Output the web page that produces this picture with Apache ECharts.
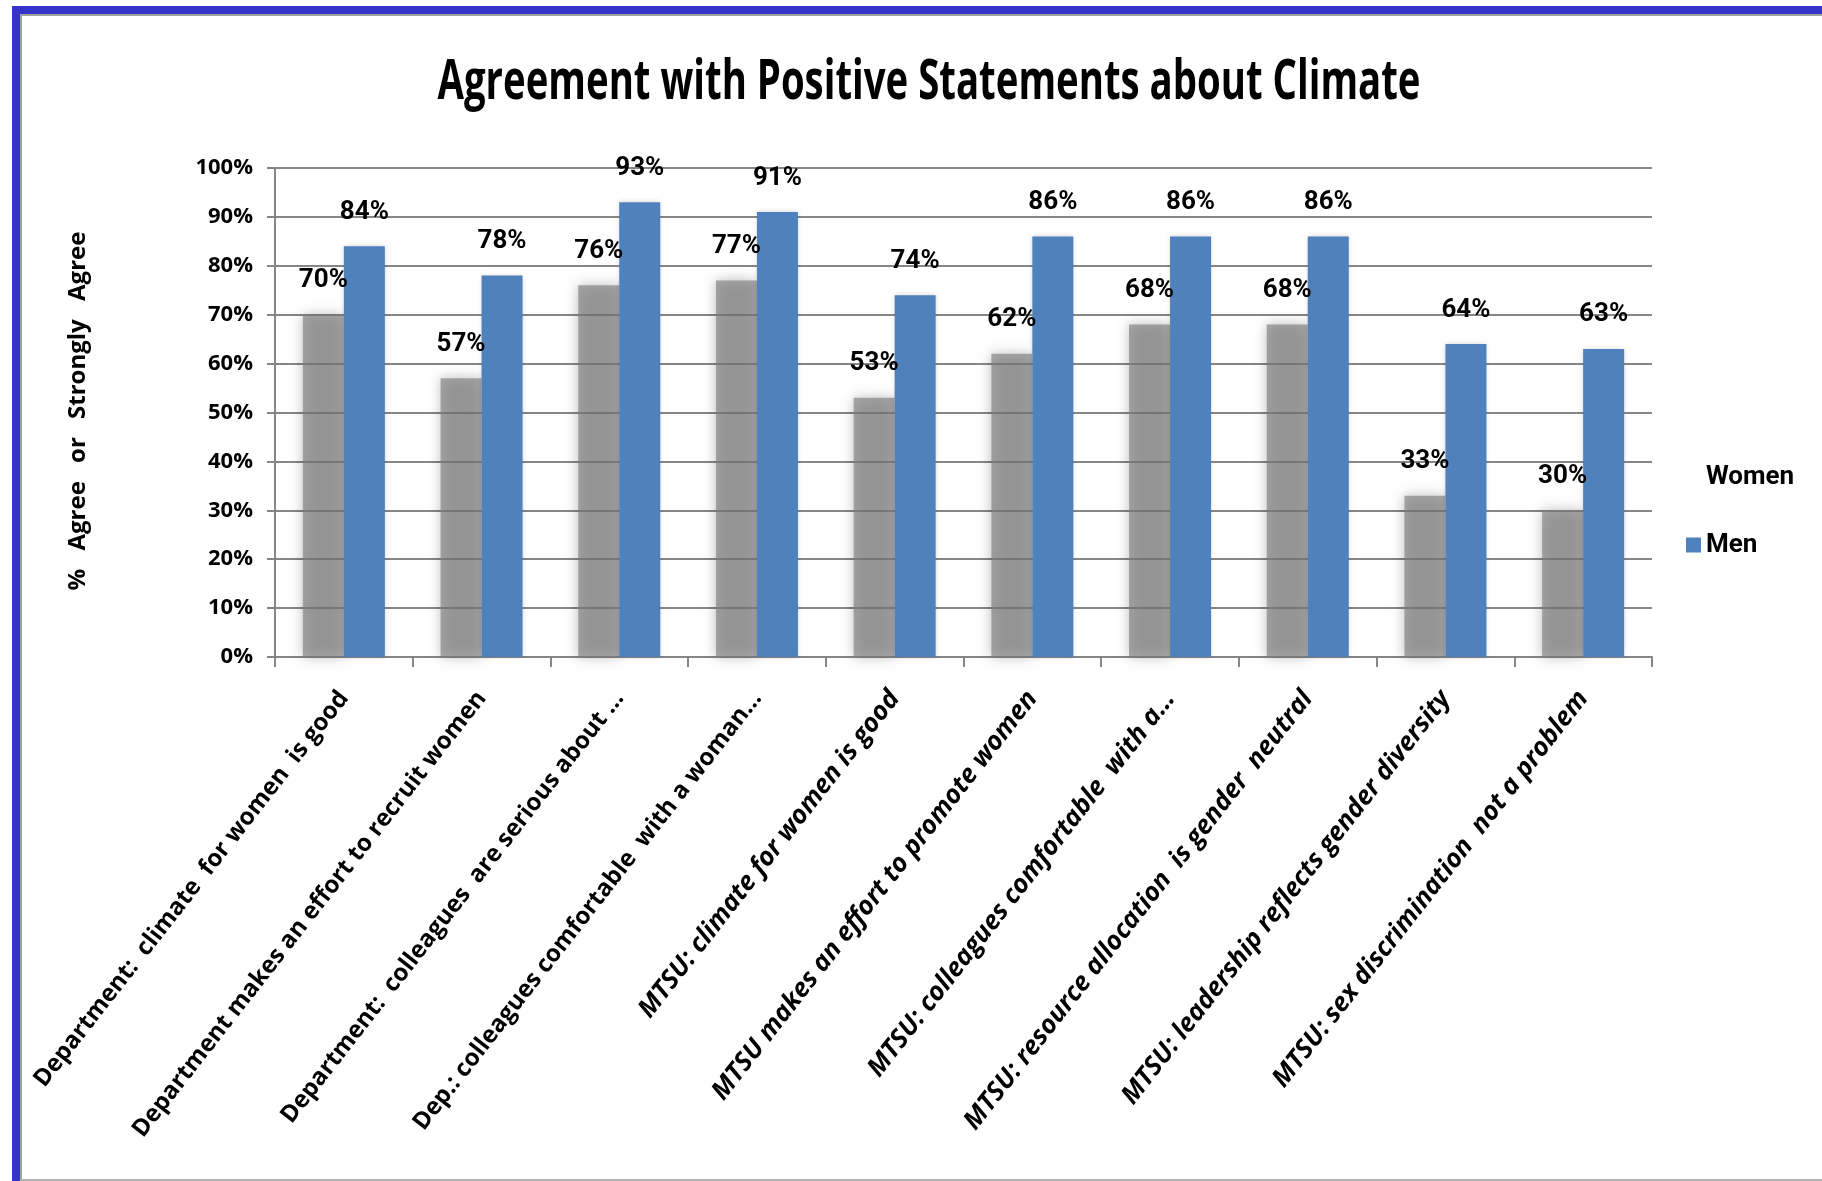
<!DOCTYPE html>
<html>
<head>
<meta charset="utf-8">
<title>Agreement with Positive Statements about Climate</title>
<style>
  html, body { margin: 0; padding: 0; background: #ffffff; }
  #chart { width: 1822px; height: 1181px; }
</style>
<script src="https://cdn.jsdelivr.net/npm/echarts@6/dist/echarts.min.js"></script>
</head>
<body>
<div id="chart"></div>
<script>
// Survey statements (x axis)
const categories = [
  'Department:  climate  for women  is good',
  'Department makes an effort to recruit women',
  'Department:  colleagues  are serious about \u2026',
  'Dep.: colleagues comfortable  with a woman\u2026',
  'MTSU: climate for women is good',
  'MTSU makes an effort to promote women',
  'MTSU: colleagues comfortable  with a\u2026',
  'MTSU: resource allocation  is gender  neutral',
  'MTSU: leadership reflects gender diversity',
  'MTSU: sex discrimination  not a problem'
];

// Percent agreeing or strongly agreeing
const women = [70, 57, 76, 77, 53, 62, 68, 68, 33, 30];
const men   = [84, 78, 93, 91, 74, 86, 86, 86, 64, 63];

// Value axis tick labels, 0..100 in steps of 10
const yTickLabels = ['0%', '10%', '20%', '30%', '40%', '50%', '60%', '70%', '80%', '90%', '100%'];

const titleText = 'Agreement with Positive Statements about Climate';
const yAxisTitle = '%\u2002 Agree\u2002 or\u2002 Strongly\u2002 Agree';

const SANS = '"Open Sans", "Noto Sans", sans-serif';
const COMPACT = 'Roboto, "Open Sans", sans-serif';
const GRID_COLOR = '#868686';

// The title is set tight: squeeze it to its box width
const TITLE_FONT_SIZE = 56;
const TITLE_BOX_WIDTH = 983;
const measureCtx = document.createElement('canvas').getContext('2d');
measureCtx.font = 'bold ' + TITLE_FONT_SIZE + 'px ' + SANS;
const titleScaleX = TITLE_BOX_WIDTH / measureCtx.measureText(titleText).width;

const chart = echarts.init(document.getElementById('chart'), null, { renderer: 'canvas' });

const valueLabel = {
  show: true,
  position: 'top',
  distance: 21,
  formatter: '{c}%',
  fontFamily: COMPACT,
  fontWeight: 'bold',
  fontSize: 26,
  color: '#000000'
};

chart.setOption({
  animation: false,
  backgroundColor: '#ffffff',
  graphic: [
    // slide frame: blue bands at top and left with a thin grey edge
    { type: 'rect', shape: { x: 12, y: 6, width: 1810, height: 8 }, style: { fill: '#3434c8' }, silent: true },
    { type: 'rect', shape: { x: 20, y: 14, width: 1802, height: 2 }, style: { fill: '#a0a0a0' }, silent: true },
    { type: 'rect', shape: { x: 12, y: 6, width: 8, height: 1175 }, style: { fill: '#3434c8' }, silent: true },
    { type: 'rect', shape: { x: 20, y: 14, width: 2, height: 1167 }, style: { fill: '#a0a0a0' }, silent: true },
    { type: 'rect', shape: { x: 20, y: 1179, width: 1802, height: 2 }, style: { fill: '#b4b4b4' }, silent: true },
    {
      type: 'text',
      x: 929, y: 83,
      scaleX: titleScaleX,
      style: {
        text: titleText,
        font: 'bold ' + TITLE_FONT_SIZE + 'px ' + SANS,
        fill: '#000000',
        align: 'center',
        verticalAlign: 'middle'
      },
      silent: true
    },
    {
      type: 'text',
      x: 78, y: 411,
      rotation: Math.PI / 2,
      style: {
        text: yAxisTitle,
        font: 'bold 24px ' + SANS,
        fill: '#000000',
        align: 'center',
        verticalAlign: 'middle'
      },
      silent: true
    }
  ],
  grid: {
    left: 275,
    right: 170,
    top: 168,
    bottom: 524,
    containLabel: false,
    outerBoundsMode: 'none'
  },
  legend: {
    orient: 'vertical',
    left: 1681,
    top: 458,
    itemWidth: 15,
    itemHeight: 15,
    itemGap: 40,
    icon: 'rect',
    textStyle: {
      fontFamily: COMPACT,
      fontWeight: 'bold',
      fontSize: 26,
      lineHeight: 28,
      color: '#000000'
    },
    data: [
      { name: 'Women', itemStyle: { opacity: 0 } },
      { name: 'Men' }
    ]
  },
  xAxis: {
    type: 'category',
    data: categories,
    axisLine: { lineStyle: { color: GRID_COLOR, width: 2 } },
    axisTick: { show: true, length: 10, lineStyle: { color: GRID_COLOR, width: 2 } },
    axisLabel: {
      interval: 0,
      rotate: 52,
      margin: 37,
      color: '#000000',
      fontFamily: SANS,
      fontWeight: 'bold',
      fontSize: 24,
      formatter: function (value) {
        return (value.indexOf('MTSU') === 0 ? '{i|' : '{n|') + value + '}';
      },
      rich: {
        n: { fontFamily: SANS, fontWeight: 'bold', fontSize: 24, fontStyle: 'normal', color: '#000000' },
        i: { fontFamily: SANS, fontWeight: 'bold', fontSize: 26, fontStyle: 'italic', color: '#000000' }
      }
    }
  },
  yAxis: {
    type: 'value',
    min: 0,
    max: 100,
    interval: 10,
    axisLine: { show: true, lineStyle: { color: GRID_COLOR, width: 2 } },
    axisTick: { show: true, length: 8, lineStyle: { color: GRID_COLOR, width: 2 } },
    splitLine: { show: true, lineStyle: { color: GRID_COLOR, width: 2 } },
    axisLabel: {
      margin: 22,
      color: '#000000',
      fontFamily: SANS,
      fontWeight: 'bold',
      fontSize: 22,
      formatter: function (v) { return yTickLabels[Math.round(v / 10)]; }
    }
  },
  series: [
    {
      name: 'Women',
      type: 'bar',
      data: women,
      barWidth: 41,
      barGap: '0%',
      itemStyle: {
        color: 'rgba(128,128,128,0.66)',
        shadowBlur: 12,
        shadowColor: 'rgba(0,0,0,0.4)'
      },
      label: valueLabel,
      emphasis: { disabled: true }
    },
    {
      name: 'Men',
      type: 'bar',
      data: men,
      barWidth: 41,
      barGap: '0%',
      itemStyle: {
        color: '#4f81bd',
        shadowBlur: 5,
        shadowColor: 'rgba(0,0,0,0.18)'
      },
      label: valueLabel,
      emphasis: { disabled: true }
    }
  ]
});
</script>
</body>
</html>
